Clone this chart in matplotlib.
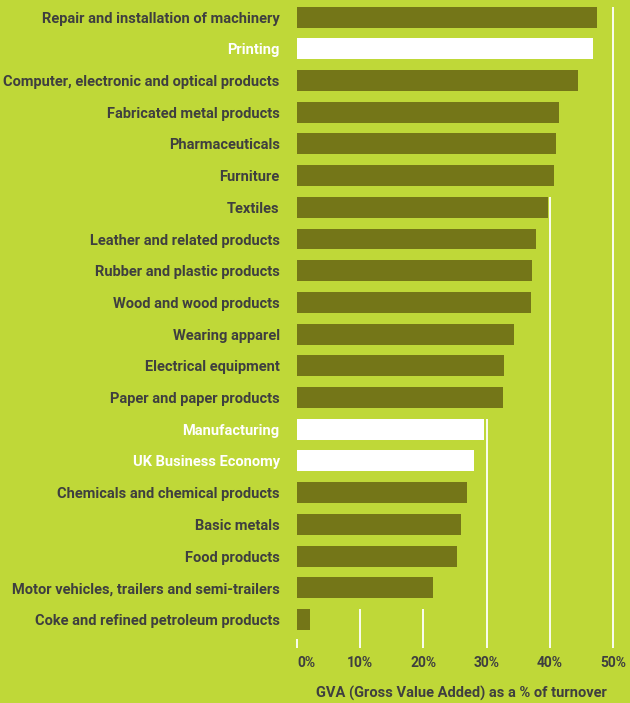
import matplotlib
matplotlib.use("Agg")
import matplotlib.pyplot as plt
import numpy as np

# GVA as % of turnover, by sector (top to bottom as in the chart)
sectors = [
    "Repair and installation of machinery",
    "Printing",
    "Computer, electronic and optical products",
    "Fabricated metal products",
    "Pharmaceuticals",
    "Furniture",
    "Textiles",
    "Leather and related products",
    "Rubber and plastic products",
    "Wood and wood products",
    "Wearing apparel",
    "Electrical equipment",
    "Paper and paper products",
    "Manufacturing",
    "UK Business Economy",
    "Chemicals and chemical products",
    "Basic metals",
    "Food products",
    "Motor vehicles, trailers and semi-trailers",
    "Coke and refined petroleum products",
]
gva_pct = [47.5, 46.8, 44.4, 41.4, 41.0, 40.6, 39.8, 37.9, 37.2, 37.1,
           34.4, 32.8, 32.6, 29.6, 28.0, 26.9, 26.0, 25.4, 21.6, 2.1]
highlight = ["Printing", "Manufacturing", "UK Business Economy"]
xticks = [0, 10, 20, 30, 40, 50]

bg = "#bfd838"
olive = "#747618"
txt = "#3f3f3f"

plt.rcParams["font.family"] = ["Roboto", "DejaVu Sans"]

fig = plt.figure(figsize=(6.3, 7.03), dpi=100, facecolor=bg)
ax = fig.add_axes([295 / 630, 55 / 703, 335 / 630, 648 / 703])
ax.set_facecolor(bg)

y = np.arange(len(sectors))
colors = ["white" if s in highlight else olive for s in sectors]
bh = 0.66

# gridlines only start below the first bar that falls short of the tick
for t in xticks:
    short = [i for i, v in enumerate(gva_pct) if v < t]
    top = short[0] - bh / 2 if short else len(sectors) - 1 + 0.63
    ax.vlines(t, top, 19.9, color="white", lw=1.3, zorder=1)

ax.barh(y, gva_pct, height=bh, color=colors, zorder=2)

ax.set_ylim(19.9, -0.54)
ax.set_xlim(-0.3, 52.7)
ax.set_yticks(y)
ax.set_yticklabels(sectors, fontsize=10.5, fontweight="bold", color=txt)
for lab in ax.get_yticklabels():
    if lab.get_text() in highlight:
        lab.set_color("white")
ax.set_xticks(xticks)
ax.set_xticklabels([f"{t}%" for t in xticks], fontsize=10,
                   fontweight="bold", color=txt)
ax.get_xticklabels()[0].set_horizontalalignment("left")
ax.tick_params(axis="y", length=0, pad=11)
ax.tick_params(axis="x", length=0, pad=6)
for sp in ax.spines.values():
    sp.set_visible(False)

fig.text(461 / 630, 1 - 693 / 703, "GVA (Gross Value Added) as a % of turnover",
         ha="center", va="center", fontsize=10.5, fontweight="bold", color=txt)

fig.savefig("out.png", dpi=100, facecolor=bg)
